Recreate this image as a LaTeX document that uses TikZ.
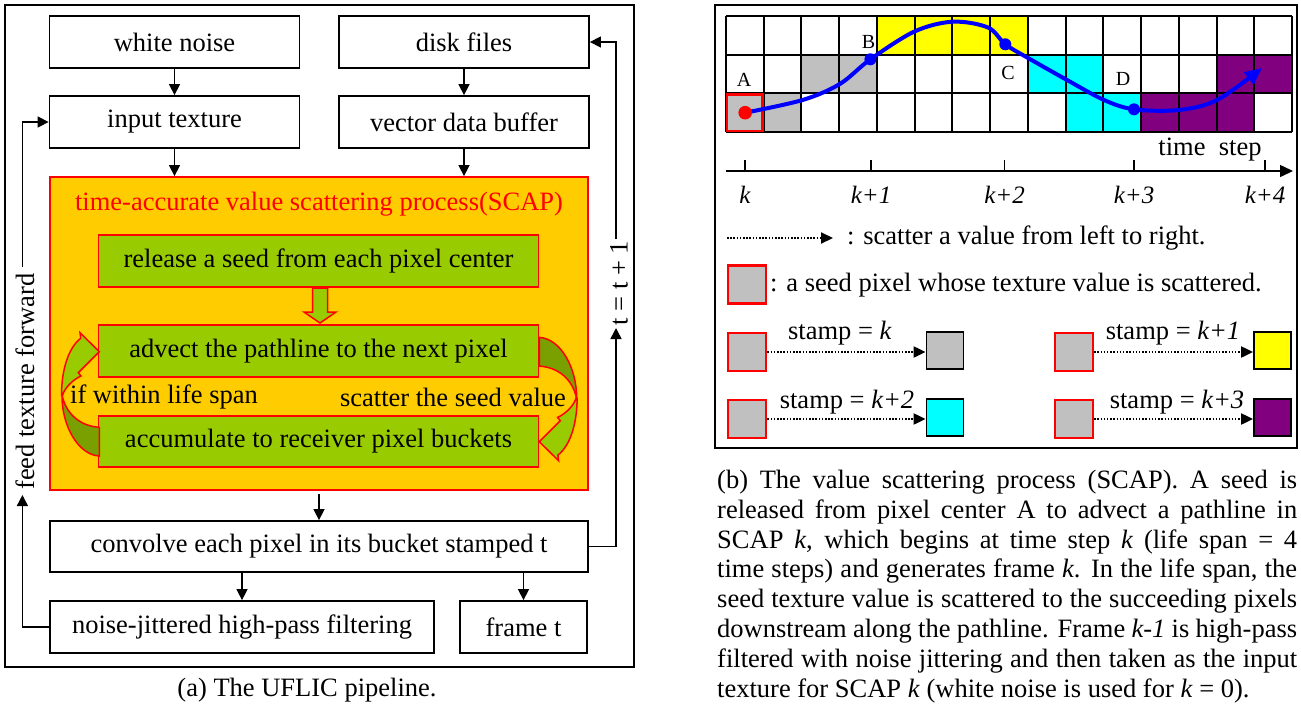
\documentclass[tikz,border=0pt]{standalone}
\usepackage{fontspec}
\setmainfont{Liberation Serif}
\usetikzlibrary{arrows.meta}
\definecolor{scaporange}{RGB}{255,204,0}
\definecolor{lgreen}{RGB}{153,204,0}
\definecolor{dgreen}{RGB}{122,160,0}
\definecolor{gcell}{RGB}{192,192,192}
\definecolor{pcell}{RGB}{128,0,128}
\definecolor{ycell}{RGB}{255,255,0}
\definecolor{ccell}{RGB}{0,255,255}
\begin{document}
\begin{tikzpicture}[x=1pt,y=-1pt,
  txt/.style={font=\fontsize{26.5}{30}\selectfont,inner sep=0pt},
  box/.style={draw=black,line width=1.8pt,fill=white,minimum height=52pt,inner sep=0pt,font=\fontsize{26.5}{30}\selectfont},
  gbox/.style={draw=red,line width=1.8pt,fill=lgreen,minimum width=440pt,minimum height=52pt,inner sep=0pt,font=\fontsize{26.5}{30}\selectfont},
  arr/.style={line width=1.5pt,-{Triangle[length=11pt,width=11pt]}},
  dotarr/.style={line width=2pt,dash pattern=on 1.5pt off 1.7pt,-{Triangle[length=12pt,width=11pt]}},
  seed/.style={draw=red,fill=gcell,line width=2.2pt,minimum width=38pt,minimum height=38pt,inner sep=0pt},
  tgt/.style={draw=black,line width=1.8pt,minimum width=37pt,minimum height=37pt,inner sep=0pt},
  lbl/.style={font=\fontsize{20}{22}\selectfont,inner sep=0pt},
  klbl/.style={font=\fontsize{25}{28}\selectfont\itshape,inner sep=0pt},
  curvlight/.style={draw=red,line width=1.5pt,fill=lgreen,line join=miter},
  curvdark/.style={draw=red,line width=1.5pt,fill=dgreen},
]
\useasboundingbox (0,0) rectangle (1301,707);
\fill[white] (0,0) rectangle (1301,707);

% ================= left panel =================
\draw[line width=1.8pt] (5,5) rectangle (634,667);

\node[box,minimum width=250pt] (wn) at (174.5,42) {white noise};
\node[box,minimum width=250pt] (df) at (464,42) {disk files};
\node[box,minimum width=250pt] (it) at (174.5,122) {input texture};
\node[box,minimum width=250pt] (vb) at (464,122) {vector data buffer};

\node[draw=red,line width=1.8pt,fill=scaporange,minimum width=538pt,minimum height=313pt,inner sep=0pt] (scap) at (319,333.5) {};
\node[txt,text=red] (scapt) at (319,204) {time-accurate value scattering process(SCAP)};

\node[gbox] (rel) at (318.5,261) {release a seed from each pixel center};
\node[gbox] (adv) at (318.5,351) {advect the pathline to the next pixel};
\node[gbox,minimum height=51pt] (acc) at (318.5,441.5) {accumulate to receiver pixel buckets};

% block arrow release -> advect
\filldraw[draw=red,line width=1.5pt,fill=lgreen]
  (312.5,288) -- (327.5,288) -- (327.5,312) -- (336,312) -- (320,323) -- (304,312) -- (312.5,312) -- cycle;

% loop arrows
\begin{scope}
  \filldraw[curvdark] (62,395) .. controls (61.5,425) and (78,455) .. (99.3,456)
     -- (99.3,427.3) .. controls (80,426) and (66,414) .. (62,395) -- cycle;
  \filldraw[curvlight] (61.5,395) .. controls (61.5,371) and (68,348) .. (80.7,338.3)
     -- (80,332.7) -- (99.3,351.7) -- (78.3,372.7) -- (81,376)
     .. controls (72,380) and (64,389) .. (62.3,396) -- cycle;
\end{scope}
\begin{scope}[rotate around={180:(319.3,396.7)}]
  \filldraw[curvdark] (62,395) .. controls (61.5,425) and (78,455) .. (99.3,456)
     -- (99.3,427.3) .. controls (80,426) and (66,414) .. (62,395) -- cycle;
  \filldraw[curvlight] (61.5,395) .. controls (61.5,371) and (68,348) .. (80.7,338.3)
     -- (80,332.7) -- (99.3,351.7) -- (78.3,372.7) -- (81,376)
     .. controls (72,380) and (64,389) .. (62.3,396) -- cycle;
\end{scope}

\node[txt] (ifl) at (164,397) {if within life span};
\node[txt] (sct) at (453,397) {scatter the seed value};

\node[box,minimum width=538pt,minimum height=51pt] (conv) at (319,546.5) {convolve each pixel in its bucket stamped t};
\node[box,minimum width=384pt] (noise) at (242,627) {noise-jittered high-pass filtering};
\node[box,minimum width=127pt] (frm) at (523.5,627) {frame t};

\draw[arr] (wn) -- (it);
\draw[arr] (df) -- (vb);
\draw[arr] (it.south) -- (it.south |- scap.north);
\draw[arr] (vb.south) -- (vb.south |- scap.north);
\draw[arr] ([yshift=-3pt]scap.south) -- (conv.north);
\draw[arr] (conv.south -| noise.north) -- (noise.north);
\draw[arr] (conv.south -| frm.north) -- (frm.north);

% feed texture forward
\coordinate (fa) at (22.4,495);
\coordinate (fb) at (22.4,267);
\draw[arr] (noise.west) -| (fa);
\draw[arr] (fb) |- (it.west);
\node[txt,rotate=90] (feed) at (25,381.5) {feed texture forward};

% t = t + 1
\coordinate (ta) at (616,328);
\coordinate (tb) at (616,239);
\draw[arr] (conv.east) -| (ta);
\draw[arr] (tb) |- (df.east);
\node[txt,rotate=90] (tt) at (619,283) {t = t + 1};

\node[txt] (capa) at (307,690) {(a) The UFLIC pipeline.};

% ================= right panel =================
\draw[line width=1.8pt] (715,5) rectangle (1297,448);

\def\cw{37.73}
\def\ch{38.67}
\foreach \c/\r/\col in {0/2/gcell,1/2/gcell,2/1/gcell,3/1/gcell,4/0/ycell,5/0/ycell,6/0/ycell,7/0/ycell,
  8/1/ccell,9/1/ccell,9/2/ccell,10/2/ccell,11/2/pcell,12/2/pcell,13/2/pcell,13/1/pcell,14/1/pcell}
  \fill[\col] ({726+\c*\cw},{16+\r*\ch}) rectangle ++(\cw,\ch);
\foreach \i in {0,...,15}
  \draw[line width=2pt] ({726+\i*\cw},16) -- ++(0,{3*\ch});
\foreach \j in {0,...,3}
  \draw[line width=2pt] (726,{16+\j*\ch}) -- ++({15*\cw},0);
\draw[red,line width=2.4pt] (727.2,{16+2*\ch+1.2}) rectangle ++({\cw-2.4},{\ch-2.4});

% pathline
\draw[blue,line width=4pt,-{Triangle[length=17pt,width=15pt]}]
  plot[smooth,tension=0.55] coordinates {(745.2,112.7) (802.6,100) (839.8,84) (870.4,59.3) (914.5,31.5)
  (952.8,21.7) (988,27.5) (1005.3,44.3) (1028.6,58.3) (1067,80) (1104,100) (1134,109.3)
  (1178.8,110) (1217,100) (1262,68)};
\fill[red] (745.2,112.7) circle (6.8pt);
\fill[blue] (870.4,59.3) circle (6pt);
\fill[blue] (1005.3,44.3) circle (6pt);
\fill[blue] (1134,109.3) circle (6pt);

\node[lbl] (la) at (744,80) {A};
\node[lbl] (lb) at (868.5,42) {B};
\node[lbl] (lc) at (1008,73) {C};
\node[lbl] (ld) at (1123,79) {D};

% time axis
\coordinate (ax0) at (726,171);
\coordinate (ax1) at (1293,171);
\draw[line width=1.5pt,-{Triangle[length=13pt,width=12pt]}] (ax0) -- (ax1);
\foreach \x in {745.2,871,1004.5,1134,1265}
  \draw[line width=1.5pt] (\x,160) -- (\x,171);
\node[txt] (ts) at (1210,150) {time\ \ step};
\node[klbl] (k0) at (745,195) {k};
\node[klbl] (k1) at (871,195) {k+1};
\node[klbl] (k2) at (1004.5,195) {k+2};
\node[klbl] (k3) at (1134,195) {k+3};
\node[klbl] (k4) at (1265,195) {k+4};

% legend
\coordinate (l1a) at (727,238);
\coordinate (l1b) at (833,238);
\draw[dotarr] (l1a) -- (l1b);
\node[txt,anchor=west] (l1t) at (847,238) {: scatter a value from left to right.};

\node[seed] (s0) at (747.3,284.5) {};
\node[txt,anchor=west] (l2t) at (770,285) {: a seed pixel whose texture value is scattered.};

\node[seed] (s1) at (747.3,352) {};
\node[tgt,fill=gcell] (t1) at (945,350.5) {};
\draw[dotarr] (s1.east) -- (s1.east -| t1.west);
\node[txt] (st1) at (840,333) {stamp = \textit{k}};

\node[seed] (s2) at (1074,352) {};
\node[tgt,fill=ycell] (t2) at (1272.5,350.5) {};
\draw[dotarr] (s2.east) -- (s2.east -| t2.west);
\node[txt] (st2) at (1173,333) {stamp = \textit{k+1}};

\node[seed] (s3) at (747.3,419) {};
\node[tgt,fill=ccell] (t3) at (945,417.5) {};
\draw[dotarr] (s3.east) -- (s3.east -| t3.west);
\node[txt] (st3) at (847,402) {stamp = \textit{k+2}};

\node[seed] (s4) at (1074,419) {};
\node[tgt,fill=pcell] (t4) at (1272.5,417.5) {};
\draw[dotarr] (s4.east) -- (s4.east -| t4.west);
\node[txt] (st4) at (1177,402) {stamp = \textit{k+3}};

\node[txt,text width=580pt,align=justify,anchor=south west,font=\fontsize{26.5}{29.8}\selectfont] (capb) at (717,703)
{(b) The value scattering process (SCAP). A seed is\linebreak
released from pixel center A to advect a pathline in\linebreak
SCAP \textit{k}, which begins at time step \textit{k} (life span = 4\linebreak
time steps) and generates frame \textit{k}. In the life span, the\linebreak
seed texture value is scattered to the succeeding pixels\linebreak
downstream along the pathline. Frame \textit{k-1} is high-pass\linebreak
filtered with noise jittering and then taken as the input\linebreak
texture for SCAP \textit{k} (white noise is used for \textit{k} = 0).};
\end{tikzpicture}
\end{document}
